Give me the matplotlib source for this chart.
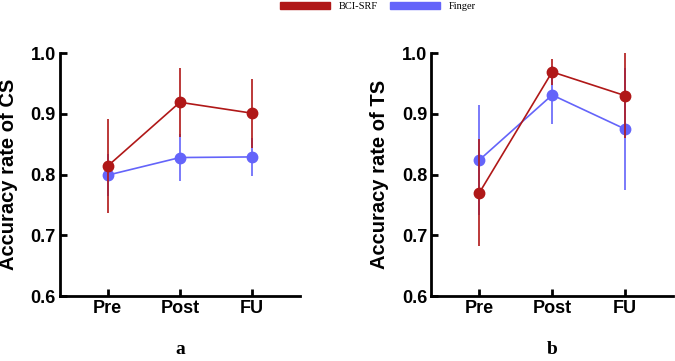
import matplotlib
matplotlib.use('Agg')
import matplotlib.pyplot as plt
from matplotlib.patches import Patch
import numpy as np

sessions = ['Pre', 'Post', 'FU']

cs_bci = [0.814, 0.919, 0.901]
cs_bci_err = [0.078, 0.057, 0.057]
cs_finger = [0.799, 0.828, 0.829]
cs_finger_err = [0.035, 0.038, 0.031]

ts_bci = [0.770, 0.969, 0.930]
ts_bci_err = [0.088, 0.022, 0.070]
ts_finger = [0.824, 0.931, 0.875]
ts_finger_err = [0.090, 0.047, 0.101]

red = '#B01818'
blue = '#6464FA'

fig = plt.figure(figsize=(6.75, 3.61), dpi=100)
ax1 = fig.add_axes([0.089, 0.18, 0.355, 0.673])
ax2 = fig.add_axes([0.639, 0.18, 0.358, 0.673])

x = np.arange(len(sessions))


def panel(ax, bci, bci_err, finger, finger_err, ylabel, letter):
    ax.errorbar(x, finger, yerr=finger_err, color=blue, marker='o', ms=7.5,
                lw=1.2, elinewidth=1.2, capsize=0, clip_on=False, zorder=3)
    ax.errorbar(x, bci, yerr=bci_err, color=red, marker='o', ms=7.5,
                lw=1.2, elinewidth=1.2, capsize=0, clip_on=False, zorder=4)
    ax.set_xlim(-0.66, 2.66)
    ax.set_ylim(0.6, 1.0)
    ax.set_yticks([0.6, 0.7, 0.8, 0.9, 1.0])
    ax.set_xticks(x)
    ax.set_xticklabels(sessions)
    for s in ['top', 'right']:
        ax.spines[s].set_visible(False)
    for s in ['left', 'bottom']:
        ax.spines[s].set_linewidth(2)
    ax.tick_params(direction='in', width=2, length=5, labelsize=13, pad=3)
    for lab in ax.get_xticklabels() + ax.get_yticklabels():
        lab.set_fontweight('bold')
        lab.set_family('Liberation Sans')
    ax.set_ylabel(ylabel, fontsize=14.5, fontweight='bold',
                  family='Liberation Sans', labelpad=9)
    ax.text(1, -0.22, letter, transform=ax.get_xaxis_transform(),
            ha='center', va='center', fontsize=14, fontweight='bold',
            family='Liberation Serif')


panel(ax1, cs_bci, cs_bci_err, cs_finger, cs_finger_err,
      'Accuracy rate of CS', 'a')
panel(ax2, ts_bci, ts_bci_err, ts_finger, ts_finger_err,
      'Accuracy rate of TS', 'b')

handles = [Patch(color=red, label='BCI-SRF'), Patch(color=blue, label='Finger')]
fig.legend(handles=handles, loc='upper center', bbox_to_anchor=(0.56, 1.02),
           ncol=2, frameon=False, handlelength=4.8, handleheight=0.6,
           columnspacing=1.2, prop={'family': 'Liberation Serif', 'size': 7.5})

fig.savefig('out.png', dpi=100)
